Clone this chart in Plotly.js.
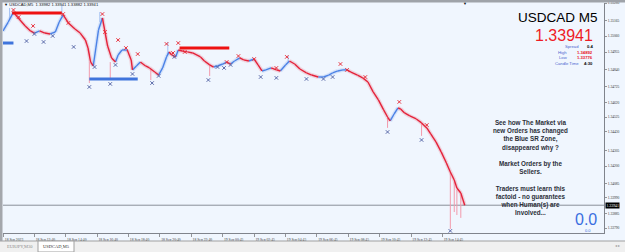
<!DOCTYPE html>
<html><head><meta charset="utf-8">
<script src="https://cdn.plot.ly/plotly-3.0.1.min.js"></script>
<style>html,body{margin:0;padding:0;background:#f0f6fe;overflow:hidden}#chart{width:625px;height:252px}</style>
</head><body><div id="chart"></div>
<script>
// ---- data (bar index = 5-minute bars from chart start) ----
const bars = [0,4,8,11,17,21,24,28,32,36,40,43,46,50,55,59,63,65,67,69,71,73,76,78,80,83,86,88,91,95,98,99,102,105,109,112,116,119,122,125,127,129,132,134,137,141,145,151,154,158,161,164,168,171,174,177,181,184,188,192,195,198,201,205,209,212,216,219,223,227,232,236,241,245,249,252,256,260,263,266,271,275,279,283,287,291,294,296,299,302,304,307,311,316,320,324,327,331,335,339,342,345,347,350,353];
const closes = [1.35095,1.35154,1.35220,1.35187,1.35128,1.35095,1.35081,1.35095,1.35081,1.35075,1.35088,1.35154,1.35201,1.35148,1.35108,1.35081,1.35035,1.34982,1.34889,1.34863,1.34982,1.35101,1.35181,1.35088,1.34995,1.34916,1.34889,1.34936,1.34969,1.34969,1.34903,1.34837,1.34863,1.34889,1.34863,1.34850,1.34823,1.34803,1.34850,1.34923,1.34956,1.34936,1.34923,1.34969,1.34962,1.34956,1.34949,1.34923,1.34896,1.34870,1.34856,1.34863,1.34876,1.34889,1.34876,1.34896,1.34916,1.34903,1.34896,1.34909,1.34870,1.34830,1.34837,1.34850,1.34837,1.34830,1.34870,1.34896,1.34876,1.34843,1.34817,1.34803,1.34790,1.34790,1.34803,1.34817,1.34830,1.34837,1.34837,1.34823,1.34803,1.34784,1.34757,1.34691,1.34638,1.34572,1.34525,1.34499,1.34545,1.34585,1.34578,1.34552,1.34532,1.34512,1.34486,1.34453,1.34413,1.34360,1.34294,1.34221,1.34161,1.34108,1.34055,1.34022,1.33941];

const wickBars = [66,82,113,158,294,320,342,345,347,350,5,45,74,126,218];
const wickFrom = [1.34889,1.34889,1.34837,1.34870,1.34519,1.34486,1.34161,1.34095,1.34042,1.34009,1.35168,1.35201,1.35154,1.34936,1.34889];
const wickTo   = [1.34750,1.34770,1.34770,1.34797,1.34453,1.34400,1.33784,1.33896,1.33876,1.33857,1.35247,1.35267,1.35220,1.35022,1.34929];

const upFractalBars = [8,12,23,46,50,76,78,88,94,103,125,130,134,139,171,180,192,209,217,258,263,277,303,324];
const upFractalPrices = [1.35234,1.35187,1.35128,1.35207,1.35148,1.35207,1.35088,1.35035,1.34982,1.34942,1.35009,1.34949,1.35015,1.34956,1.34889,1.34929,1.34909,1.34850,1.34923,1.34876,1.34837,1.34790,1.34625,1.34472];
const downFractalBars = [18,24,31,38,54,66,70,82,86,99,114,119,131,157,164,169,174,197,209,232,245,252,294,320,342];
const downFractalPrices = [1.35028,1.35075,1.35022,1.35062,1.34989,1.34724,1.34856,1.34744,1.34870,1.34810,1.34750,1.34797,1.34923,1.34770,1.34856,1.34850,1.34870,1.34790,1.34784,1.34777,1.34777,1.34790,1.34426,1.34373,1.33771];

const zoneStart = [0,7,66,135];
const zoneEnd   = [8,45,103,173];
const zonePrice = [1.35015,1.35214,1.34777,1.34982];
const zoneType  = ['support','resistance','support','resistance'];

const timeTickBars = [0,24,48,72,96,120,144,168,192,216,240,264,288,312,336];
const timeTickLabels = ['18 Sep 2023','18 Sep 12:40','18 Sep 14:40','18 Sep 16:40','18 Sep 18:40','18 Sep 20:40','18 Sep 22:40','19 Sep 00:45','19 Sep 02:45','19 Sep 04:45','19 Sep 06:45','19 Sep 08:45','19 Sep 10:45','19 Sep 12:45','19 Sep 14:45'];
const priceTicks = [1.35280,1.35165,1.35060,1.34955,1.34840,1.34725,1.34620,1.34525,1.34430,1.34305,1.34200,1.34085,1.33990,1.33885,1.33790];
const priceTickLabels = priceTicks.map(v => v.toFixed(5));

const symbol = 'USDCAD M5';
const headerText = '\u25BC USDCAD,M5  1.33982 1.33941 1.33882 1.33941';
const currentPrice = 1.33941;
const spread = '0.4', dayHigh = '1.34892', dayLow = '1.33776', candleTime = '4:30';
const pipsValue = '0.0';
const noteLines = ['See how The Market via','new Orders has changed','the Blue SR Zone,','disappeared why ?','','Market Orders by the','Sellers.','','Traders must learn this','factoid - no guarantees','when Human(s) are','Involved...'];
const tabs = ['EURJPY,M30','USDCAD,M5'];

// ---- styles ----
const BLUE = '#4b82e6', RED = '#e4223a';
const W = 625, H = 252, ML = 3, MR = 21, MT = 3, MB = 19;
const PW = W - ML - MR, PH = H - MT - MB;
const px = x => (x - ML) / PW;
const py = y => (H - MB - y) / PH;

// ---- build traces ----
const upX = [], upY = [], dnX = [], dnY = [];
for (let i = 1; i < bars.length; i++) {
  const tx = closes[i] >= closes[i-1] ? [upX, upY] : [dnX, dnY];
  tx[0].push(bars[i-1], bars[i], null);
  tx[1].push(closes[i-1], closes[i], null);
}
const wdX = [], wdY = [], wuX = [], wuY = [];
for (let i = 0; i < wickBars.length; i++) {
  const t = wickTo[i] < wickFrom[i] ? [wdX, wdY] : [wuX, wuY];
  t[0].push(wickBars[i], wickBars[i], null);
  t[1].push(wickFrom[i], wickTo[i], null);
}
const traces = [];
traces.push({x: upX, y: upY, mode: 'lines', line: {color: BLUE, width: 4}, opacity: 0.16, hoverinfo: 'skip'});
traces.push({x: dnX, y: dnY, mode: 'lines', line: {color: RED, width: 4}, opacity: 0.16, hoverinfo: 'skip'});
traces.push({x: wdX, y: wdY, mode: 'lines', line: {color: '#f29aac', width: 1}, hoverinfo: 'skip'});
traces.push({x: wuX, y: wuY, mode: 'lines', line: {color: '#a6c2f2', width: 1}, hoverinfo: 'skip'});
traces.push({x: upX, y: upY, mode: 'lines', line: {color: BLUE, width: 1.4}});
traces.push({x: dnX, y: dnY, mode: 'lines', line: {color: RED, width: 1.4}});
for (let i = 0; i < zoneStart.length; i++) {
  traces.push({x: [zoneStart[i], zoneEnd[i]], y: [zonePrice[i], zonePrice[i]], mode: 'lines',
    line: {color: zoneType[i] === 'support' ? '#3f74dc' : '#ee1111', width: 3}});
}
traces.push({x: upFractalBars, y: upFractalPrices, mode: 'markers', marker: {symbol: 'x-thin', size: 3.5, line: {color: '#e8303c', width: 1}}});
traces.push({x: downFractalBars, y: downFractalPrices, mode: 'markers', marker: {symbol: 'x-thin', size: 3.5, line: {color: '#5868a8', width: 1}}});

const sans = 'Liberation Sans, Arial, sans-serif';
const serif = 'Liberation Serif, Times New Roman, serif';
const ann = [];
function A(o){ ann.push(Object.assign({showarrow: false, xref: 'paper', yref: 'paper'}, o)); }
A({x: px(2), y: py(5), xanchor: 'left', yanchor: 'middle', text: headerText, font: {family: sans, size: 4.1, color: '#111'}});
A({x: px(465), y: py(3), xanchor: 'center', yanchor: 'middle', text: '\u25BC', font: {family: sans, size: 4, color: '#111'}});
A({x: px(600), y: py(17.5), xanchor: 'right', yanchor: 'middle', text: symbol, font: {family: sans, size: 13.5, color: '#000'}});
A({x: px(594), y: py(35.5), xanchor: 'right', yanchor: 'middle', text: currentPrice.toFixed(5), borderpad: 0, font: {family: sans, size: 16, color: '#ee1c25'}});
const rows = [['Spread', spread, '#000', 580, 46.5], ['High', dayHigh, '#e8101a', 568, 52], ['Low', dayLow, '#e8101a', 569, 57.5], ['Candle Time', candleTime, '#000', 580, 63]];
rows.forEach(r => {
  A({x: px(r[3]), y: py(r[4]), xanchor: 'right', yanchor: 'middle', borderpad: 0, text: r[0], font: {family: sans, size: 4.2, color: '#4a66d0'}});
  A({x: px(594), y: py(r[4]), xanchor: 'right', yanchor: 'middle', borderpad: 0, text: '<b>' + r[1] + '</b>', font: {family: sans, size: 4.2, color: r[2]}});
});
A({x: px(530), y: py(167.5), xanchor: 'center', yanchor: 'middle', align: 'center', text: noteLines.join('<br>'),
   font: {family: sans, size: 6.3, color: '#2b2e38', weight: 'bold'}});
A({x: px(586), y: py(219), xanchor: 'center', yanchor: 'middle', text: pipsValue, font: {family: sans, size: 16, color: '#3a6ee0'}});
A({x: px(588), y: py(230), xanchor: 'center', yanchor: 'middle', text: pipsValue, font: {family: sans, size: 4, color: '#3a6ee0'}});
A({x: 1, xshift: 1, y: currentPrice, yref: 'y', xanchor: 'left', yanchor: 'middle', text: currentPrice.toFixed(5), bgcolor: '#000', borderpad: 0.5,
   font: {family: serif, size: 3.8, color: '#fff'}});
A({x: px(20), y: py(247), xanchor: 'center', yanchor: 'middle', text: tabs[0], font: {family: serif, size: 4.5, color: '#8c8c8c'}});
A({x: px(56), y: py(247), xanchor: 'center', yanchor: 'middle', text: tabs[1], font: {family: serif, size: 4.5, color: '#333'}});
A({x: px(617), y: py(246), xanchor: 'center', yanchor: 'middle', text: '\u25C2 \u25B8', font: {family: sans, size: 4, color: '#9a9a9a'}});

const shapes = [
  {type: 'line', xref: 'paper', yref: 'y', x0: 0, x1: 1, y0: currentPrice, y1: currentPrice, line: {color: '#8a8f99', width: 1}, layer: 'below'},
  {type: 'rect', xref: 'paper', yref: 'paper', x0: px(0), x1: px(625), y0: py(252), y1: py(241), fillcolor: '#f0f0f0', line: {width: 0}, layer: 'above'},
  {type: 'line', xref: 'paper', yref: 'paper', x0: px(0), x1: px(625), y0: py(241), y1: py(241), line: {color: '#a0a0a0', width: 1}, layer: 'above'},
  {type: 'rect', xref: 'paper', yref: 'paper', x0: px(38), x1: px(74), y0: py(252), y1: py(241), fillcolor: '#ffffff', line: {color: '#a0a0a0', width: 1}, layer: 'above'},
  {type: 'rect', xref: 'paper', yref: 'paper', x0: px(0), x1: px(625), y0: py(2.5), y1: py(0), fillcolor: '#9fa3a9', line: {width: 0}, layer: 'above'},
  {type: 'rect', xref: 'paper', yref: 'paper', x0: px(0), x1: px(2.5), y0: py(241), y1: py(0), fillcolor: '#a4a7ac', line: {width: 0}, layer: 'above'}
];

const layout = {
  width: W, height: H, margin: {l: ML, r: MR, t: MT, b: MB, pad: 0},
  paper_bgcolor: '#f0f6fe', plot_bgcolor: '#f0f6fe', showlegend: false,
  xaxis: {range: [0, PW / 1.308], tickvals: timeTickBars, ticktext: timeTickLabels, ticks: 'outside', ticklen: 3, tickcolor: '#555', tickwidth: 0.6,
    tickfont: {family: serif, size: 3.7, color: '#333'}, ticklabelshift: 11, ticklabelstandoff: 0,
    showline: true, linecolor: '#80848c', linewidth: 1, showgrid: false, zeroline: false, fixedrange: true},
  yaxis: {range: [1.33757, 1.35280], side: 'right', tickvals: priceTicks, ticktext: priceTickLabels, ticks: 'outside', ticklen: 2, tickcolor: '#555', tickwidth: 0.6,
    tickfont: {family: serif, size: 3.6, color: '#333'}, ticklabelstandoff: 0,
    showline: true, linecolor: '#80848c', linewidth: 1, showgrid: false, zeroline: false, fixedrange: true},
  annotations: ann, shapes: shapes
};
Plotly.newPlot('chart', traces, layout, {staticPlot: true, displayModeBar: false});
</script></body></html>
